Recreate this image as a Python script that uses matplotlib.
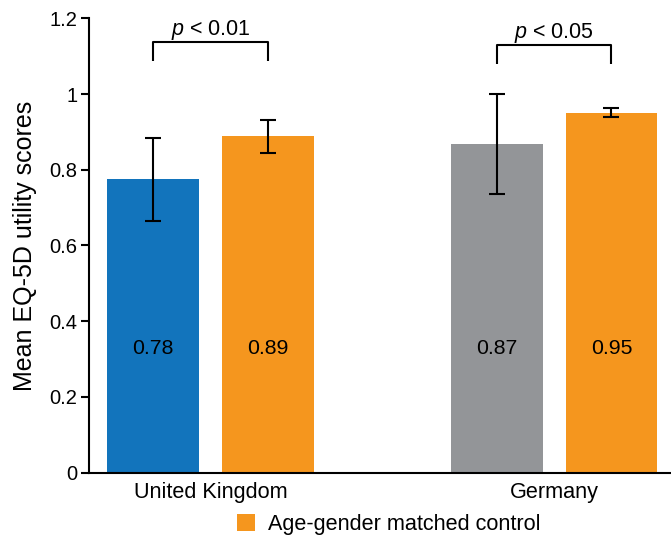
import matplotlib
matplotlib.use("Agg")
import matplotlib.pyplot as plt
from matplotlib.patches import Patch

plt.rcParams['font.family'] = ['Liberation Sans', 'DejaVu Sans']
plt.rcParams['mathtext.fontset'] = 'custom'
plt.rcParams['mathtext.rm'] = 'Liberation Sans'
plt.rcParams['mathtext.it'] = 'Liberation Sans:italic'

countries = ["United Kingdom", "Germany"]
bar_labels = ["0.78", "0.89", "0.87", "0.95"]
means = [0.775, 0.888, 0.869, 0.951]
errors = [0.110, 0.044, 0.132, 0.012]
colors = ["#1274BC", "#F5961E", "#939598", "#F5961E"]
positions = [0, 1, 3, 4]
group_centers = [0.5, 3.5]
p_texts = ["$\\it{p}$ < 0.01", "$\\it{p}$ < 0.05"]
legend_label = "Age-gender matched control"
yticks = [0, 0.2, 0.4, 0.6, 0.8, 1.0, 1.2]
ytick_labels = ["0", "0.2", "0.4", "0.6", "0.8", "1", "1.2"]

fig = plt.figure(figsize=(6.71, 5.36), dpi=100)
ax = fig.add_axes([89/671, (536-472.7)/536, 1-89/671, (472.7-18.3)/536])

ax.bar(positions, means, width=0.8, color=colors, zorder=2)
ax.errorbar(positions, means, yerr=errors, fmt='none', ecolor='black',
            elinewidth=1.5, capsize=5.5, capthick=1.5, zorder=3)

for x, lab in zip(positions, bar_labels):
    ax.text(x, 0.329, lab, ha='center', va='center', fontsize=15.3)

brackets = [(0, 1, 1.137, 1.086), (3, 4, 1.129, 1.078)]
for (x1, x2, top, bot), txt in zip(brackets, p_texts):
    ax.plot([x1, x1, x2, x2], [bot, top, top, bot], color='black', lw=1.5,
            clip_on=False, solid_capstyle='butt')
    ax.text((x1 + x2) / 2, top + 0.018, txt, ha='center', va='baseline', fontsize=15.5)

ax.set_xlim(-0.56, 4.52)
ax.set_ylim(0, 1.2)
ax.set_yticks(yticks)
ax.set_yticklabels(ytick_labels, fontsize=14.5)
ax.set_xticks(group_centers)
ax.set_xticklabels(countries, fontsize=15.6)
ax.tick_params(axis='x', length=0, pad=7)
ax.tick_params(axis='y', length=5.5, width=1.5, direction='out', pad=3)
ax.set_ylabel("Mean EQ-5D utility scores", fontsize=18, labelpad=9)

for s in ['top', 'right']:
    ax.spines[s].set_visible(False)
for s in ['left', 'bottom']:
    ax.spines[s].set_linewidth(1.5)

handle = Patch(facecolor="#F5961E", edgecolor='none')
fig.legend(handles=[handle], labels=[legend_label], loc='center left',
           bbox_to_anchor=(237.5/671, 1 - 524.5/536), frameon=False, fontsize=15.6,
           handlelength=0.8, handleheight=0.8, handletextpad=0.6, borderpad=0,
           borderaxespad=0)

fig.savefig("out.png", dpi=100)
